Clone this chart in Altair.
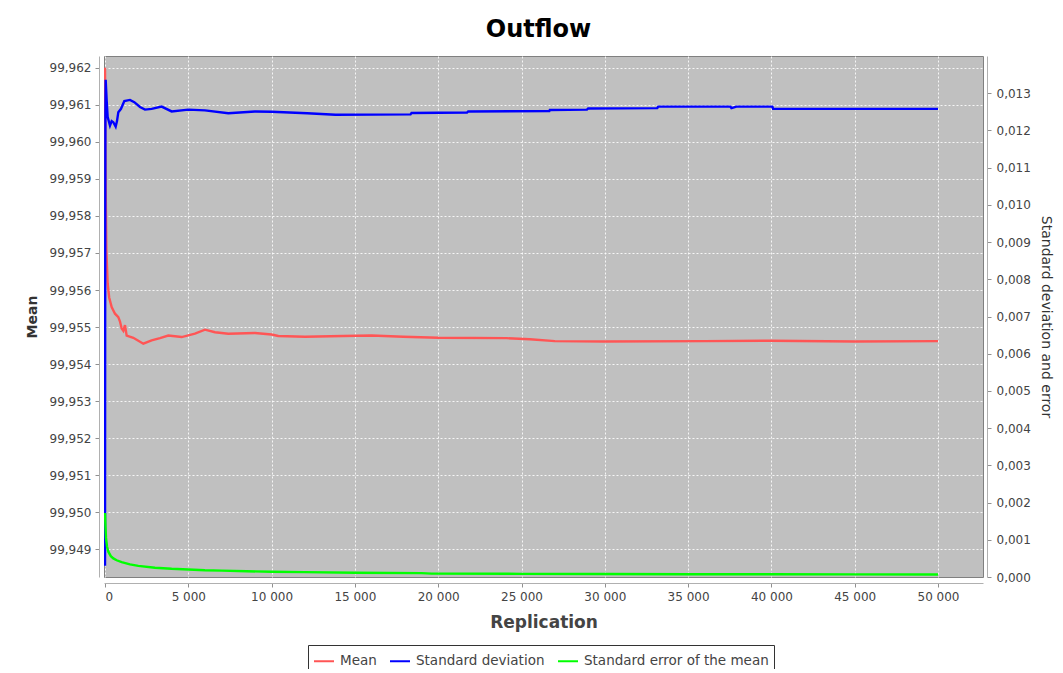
import altair as alt
import pandas as pd

# ---- data ----
mean_n = [1, 20, 50, 80, 160, 250, 400, 600, 800, 900, 1000, 1100, 1200, 1300, 1700, 2300, 2800,
          3300, 3800, 4600, 5400, 6000, 6600, 7400, 9000, 10000, 10400, 12000, 14300, 16000,
          17900, 20000, 24100, 25500, 27000, 30000, 36000, 40000, 45000, 50000]
mean_v = [99.9620, 99.9600, 99.9584, 99.9571, 99.95617, 99.9558, 99.95554, 99.95536, 99.95527,
          99.95515, 99.95496, 99.95490, 99.95505, 99.95477, 99.95471, 99.95455, 99.95464,
          99.95470, 99.95477, 99.95473, 99.95482, 99.95493, 99.95486, 99.95482, 99.95484,
          99.95480, 99.95476, 99.95474, 99.95476, 99.95477, 99.95474, 99.95471, 99.95470,
          99.95467, 99.95462, 99.95461, 99.95462, 99.95463, 99.95461, 99.95462]

sd_n = [1, 10, 25, 40, 100, 160, 300, 400, 500, 640, 720, 800, 960, 1160, 1500, 1760, 2100,
        2400, 2800, 3400, 4000, 5000, 6000, 7400, 9000, 10000, 12140, 13830, 18340, 18400,
        21730, 21800, 26670, 26700, 28930, 29000, 33150, 33200, 37530, 37600, 37900, 40060,
        40100, 50000]
sd_v = [0.0003, 0.0070, 0.0125, 0.01336, 0.0128, 0.01236, 0.01213, 0.01225, 0.01222, 0.01210,
        0.01225, 0.01249, 0.01258, 0.01279, 0.01282, 0.01276, 0.01263, 0.01256, 0.01258,
        0.01264, 0.01251, 0.01256, 0.01254, 0.01246, 0.01251, 0.01250, 0.01246, 0.01242,
        0.01243, 0.01247, 0.01248, 0.01251, 0.01252, 0.01255, 0.01256, 0.01259, 0.01260,
        0.01264, 0.01264, 0.01260, 0.01264, 0.01264, 0.01258, 0.01258]

se_n = [1, 30, 60, 120, 200, 350, 500, 700, 1000, 1500, 2000, 3000, 4000, 5000, 6000, 7000,
        8500, 10000, 12000, 15000, 19000, 19600, 25000, 30000, 35000, 40000, 45000, 50000]
se_v = [0.00172, 0.00135, 0.00105, 0.00082, 0.00068, 0.00056, 0.00050, 0.00045, 0.00040,
        0.00034, 0.00030, 0.00025, 0.00022, 0.00020, 0.00018, 0.00017, 0.000155, 0.00014,
        0.00013, 0.000115, 0.000105, 0.00009, 0.000085, 0.00008, 0.000075, 0.000072,
        0.00007, 0.000068]

series_names = ["Mean", "Standard deviation", "Standard error of the mean"]
series_colors = ["#FF5555", "#0000FF", "#00FF00"]

x_ticks = [0, 5000, 10000, 15000, 20000, 25000, 30000, 35000, 40000, 45000, 50000]
left_ticks = [99.949, 99.950, 99.951, 99.952, 99.953, 99.954, 99.955, 99.956, 99.957,
              99.958, 99.959, 99.960, 99.961, 99.962]
right_ticks = [0.000, 0.001, 0.002, 0.003, 0.004, 0.005, 0.006, 0.007, 0.008, 0.009,
               0.010, 0.011, 0.012, 0.013]

mean_df = pd.DataFrame({"n": mean_n, "v": mean_v, "s": series_names[0]})
right_df = pd.concat([
    pd.DataFrame({"n": sd_n, "v": sd_v, "s": series_names[1]}),
    pd.DataFrame({"n": se_n, "v": se_v, "s": series_names[2]}),
])

FONT = "DejaVu Sans"

color = alt.Color(
    "s:N",
    scale=alt.Scale(domain=series_names, range=series_colors),
    legend=alt.Legend(
        title=None, orient="none", legendX=204, legendY=589, direction="horizontal",
        strokeColor="#333333", padding=5, symbolType="stroke", symbolStrokeWidth=2,
        symbolSize=400, labelFontSize=13.5, labelFont=FONT, labelColor="#444444",
        columnPadding=9, labelOffset=5, fillColor="white", labelLimit=400,
    ),
)

x_enc = alt.X(
    "n:Q",
    scale=alt.Scale(domain=[-60, 52700], nice=False, zero=False),
    axis=alt.Axis(
        title="Replication", values=x_ticks, offset=6, tickSize=4,
        labelExpr="replace(format(datum.value, ','), ',', ' ')",
        labelFont=FONT, labelFontSize=12, labelColor="#444444", labelPadding=4,
        titleFont=FONT, titleFontSize=17, titleFontWeight="bold", titleColor="#444444",
        titlePadding=12, domainColor="#b0b0b0", tickColor="#909090",
        grid=True, gridColor="#ffffff", gridDash=[2, 2], gridOpacity=0.85,
    ),
)

left = alt.Chart(mean_df).mark_line(strokeWidth=2.4, clip=True).encode(
    x=x_enc,
    y=alt.Y(
        "v:Q",
        scale=alt.Scale(domain=[99.94825, 99.96232], nice=False, zero=False),
        axis=alt.Axis(
            title="Mean", orient="left", values=left_ticks, offset=5, tickSize=4,
            labelExpr="replace(format(datum.value, '.3f'), '.', ',')",
            labelFont=FONT, labelFontSize=12, labelColor="#444444", labelPadding=4,
            titleFont=FONT, titleFontSize=14, titleFontWeight="bold", titleColor="#333333",
            titlePadding=10, domainColor="#b0b0b0", tickColor="#909090",
            grid=True, gridColor="#ffffff", gridDash=[2, 2], gridOpacity=0.85,
        ),
    ),
    color=color,
    order="n:Q",
)

right = alt.Chart(right_df).mark_line(strokeWidth=2.4, clip=True).encode(
    x=x_enc,
    y=alt.Y(
        "v:Q",
        scale=alt.Scale(domain=[0, 0.014], nice=False, zero=False),
        axis=alt.Axis(
            title="Standard deviation and error", orient="right", values=right_ticks,
            offset=4, tickSize=4,
            labelExpr="replace(format(datum.value, '.3f'), '.', ',')",
            labelFont=FONT, labelFontSize=12, labelColor="#444444", labelPadding=5,
            titleFont=FONT, titleFontSize=14, titleFontWeight="normal", titleColor="#333333",
            titlePadding=8, domainColor="#b0b0b0", tickColor="#909090", grid=False,
        ),
    ),
    color=color,
    detail="s:N",
    order="n:Q",
)

chart = alt.layer(left, right).resolve_scale(y="independent").properties(
    width=879,
    height=521,
    background="white",
    title=alt.TitleParams("Outflow", font=FONT, fontSize=24, fontWeight="bold",
                          color="#000000", anchor="middle", offset=14, dx=-5),
    padding={"left": 96, "top": 48, "right": 72, "bottom": 92},
    autosize=alt.AutoSizeParams(type="none"),
).configure_view(
    fill="#C0C0C0", stroke="#808080", strokeWidth=1,
)

chart.save("out.html", embed_options={"renderer": "svg", "actions": False})
